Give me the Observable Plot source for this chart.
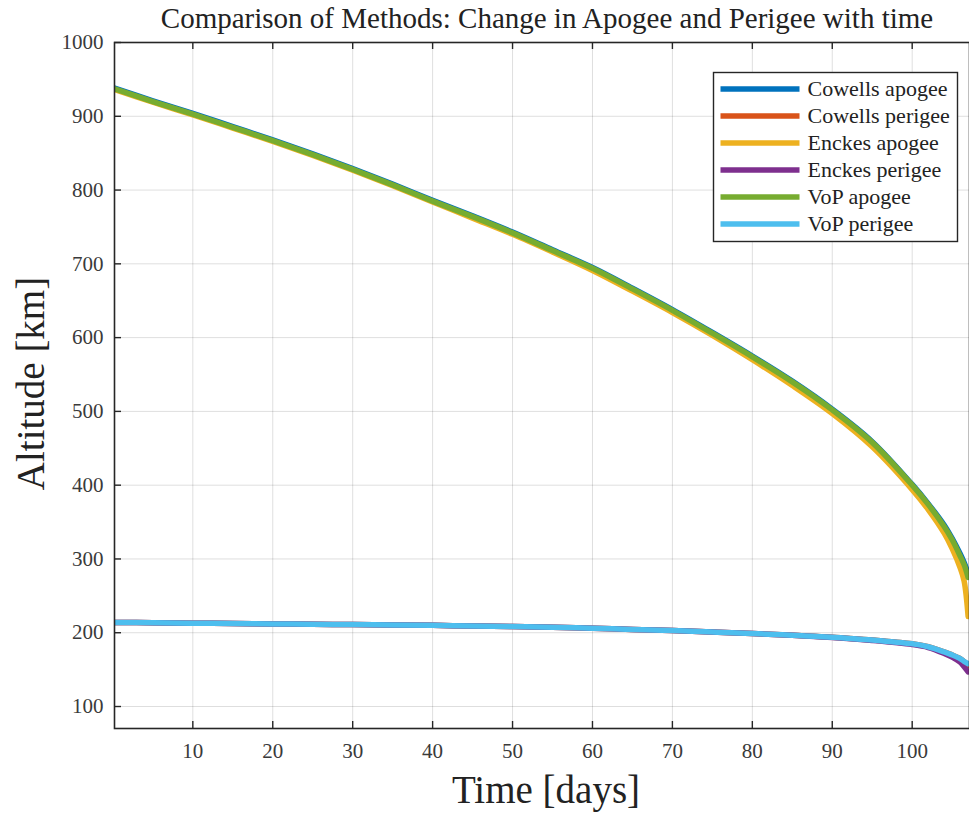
<!DOCTYPE html>
<html>
<head>
<meta charset="utf-8">
<script src="https://cdn.jsdelivr.net/npm/d3@7"></script>
<script src="https://cdn.jsdelivr.net/npm/@observablehq/plot@0.6"></script>
<style>
  html, body { margin: 0; padding: 0; background: #fff; }
  #chart svg { display: block; }
</style>
</head>
<body>
<div id="chart"></div>
<script>
// Time samples (days) shared by every series
const days = [0, 5, 10, 15, 20, 25, 30, 35, 40, 45, 50, 55, 60, 65, 70, 75, 80, 85, 90, 95, 100, 102, 104, 105, 106, 106.5, 107];

// Altitude (km) of apogee and perigee for each propagation method
const cowellsApogee  = [939, 921, 904, 886, 868, 849, 829, 808, 786, 765, 743, 719, 695, 667, 638, 607, 575, 541, 503, 459, 401, 375, 346, 328, 307, 295, 280];
const cowellsPerigee = [214, 213.5, 213, 212.5, 212, 211.5, 211, 210.5, 210, 209, 208.5, 207.5, 206, 204.5, 203, 201, 199, 196.5, 194, 190, 185, 181, 174, 170, 165, 161, 156];
const enckesApogee   = [937, 919, 902, 884, 866, 847, 827, 806, 784, 762, 740, 716, 691, 663, 634, 603, 570, 535, 497, 452, 394, 367, 335, 314, 288, 270, 222];
const enckesPerigee  = [214, 213.5, 213, 212.5, 212, 211.5, 211, 210.5, 210, 209, 208.5, 207.5, 206, 204.5, 203, 201, 199, 196.5, 193.5, 189.5, 184, 180, 172, 167, 160, 154, 147];
const vopApogee      = [938, 920, 903, 885, 867, 848, 828, 807, 785, 764, 742, 718, 694, 666, 637, 606, 574, 540, 502, 458, 400, 374, 344, 326, 304, 292, 275];
const vopPerigee     = [214, 213.5, 213, 212.5, 212, 211.5, 211, 210.5, 210, 209, 208.5, 207.5, 206, 204.5, 203, 201, 199, 196.5, 194, 190, 185, 181, 174, 170, 165, 161, 158];

const seriesNames  = ["Cowells apogee", "Cowells perigee", "Enckes apogee", "Enckes perigee", "VoP apogee", "VoP perigee"];
const seriesValues = [cowellsApogee, cowellsPerigee, enckesApogee, enckesPerigee, vopApogee, vopPerigee];
const seriesColors = ["#0072BD", "#D95319", "#EDB120", "#7E2F8E", "#77AC30", "#4DBEEE"];

const xTicks = [10, 20, 30, 40, 50, 60, 70, 80, 90, 100];
const yTicks = [100, 200, 300, 400, 500, 600, 700, 800, 900, 1000];

const titleText = "Comparison of Methods: Change in Apogee and Perigee with time";
const xLabel = "Time [days]";
const yLabel = "Altitude [km]";

// Long-format table: one row per (series, sample)
const rows = seriesNames.flatMap((name, s) =>
  days.map((d, i) => ({series: name, day: d, alt: seriesValues[s][i]}))
);

const W = 969, H = 815;
const mL = 114, mR = 0, mT = 42, mB = 87;
const plotW = W - mL - mR, plotH = H - mT - mB;
const ink = "#262626";
const serif = "'Liberation Serif', 'Times New Roman', serif";

const chart = Plot.plot({
  width: W,
  height: H,
  marginLeft: mL,
  marginRight: mR,
  marginTop: mT,
  marginBottom: mB,
  x: {domain: [0.2, 107.17]},
  y: {domain: [70.2, 1000]},
  color: {domain: seriesNames, range: seriesColors},
  style: {fontFamily: serif, fontSize: "21px", color: "#3a3a3a", background: "#fff"},
  marks: [
    Plot.gridX(xTicks, {stroke: "#000", strokeOpacity: 0.13, strokeWidth: 1}),
    Plot.gridY(yTicks, {stroke: "#000", strokeOpacity: 0.13, strokeWidth: 1}),
    Plot.line(rows, {x: "day", y: "alt", z: "series", stroke: "series", strokeWidth: 5.5, curve: "catmull-rom", clip: true}),
    // inward tick marks on the bottom, top and left edges
    Plot.ruleX(xTicks, {x: d => d, insetTop: plotH - 7, stroke: ink, strokeWidth: 1.4}),
    Plot.ruleX(xTicks, {x: d => d, insetBottom: plotH - 7, stroke: ink, strokeWidth: 1.4}),
    Plot.ruleY(yTicks, {y: d => d, insetRight: plotW - 7, stroke: ink, strokeWidth: 1.4}),
    Plot.frame({stroke: ink, strokeWidth: 1.6}),
    Plot.axisX(xTicks, {tickSize: 0, tickPadding: 15, label: null, fontSize: 21, tickFormat: d3.format("d")}),
    Plot.axisY(yTicks, {tickSize: 0, tickPadding: 11, label: null, fontSize: 21, tickFormat: d3.format("d")})
  ]
});

document.getElementById("chart").append(chart);

const svg = d3.select(chart);

// Title
svg.append("text")
  .attr("x", 547).attr("y", 28)
  .attr("text-anchor", "middle")
  .attr("font-family", serif).attr("font-size", 29)
  .attr("fill", "#222")
  .text(titleText);

// Axis labels
svg.append("text")
  .attr("x", 546).attr("y", 803)
  .attr("text-anchor", "middle")
  .attr("font-family", serif).attr("font-size", 39)
  .attr("fill", "#222")
  .text(xLabel);

svg.append("text")
  .attr("transform", "translate(44,383.5) rotate(-90)")
  .attr("text-anchor", "middle")
  .attr("font-family", serif).attr("font-size", 39)
  .attr("fill", "#222")
  .text(yLabel);

// Legend box in the upper right of the axes
const lg = svg.append("g").attr("transform", "translate(713.5,72.5)");
lg.append("rect")
  .attr("width", 244).attr("height", 169)
  .attr("fill", "#fff").attr("stroke", ink).attr("stroke-width", 1.4);
seriesNames.forEach((name, i) => {
  const y = 16.5 + i * 27;
  lg.append("line")
    .attr("x1", 7).attr("x2", 86).attr("y1", y).attr("y2", y)
    .attr("stroke", seriesColors[i]).attr("stroke-width", 5.5);
  lg.append("text")
    .attr("x", 94).attr("y", y + 7)
    .attr("text-anchor", "start")
    .attr("font-family", serif).attr("font-size", 22)
    .attr("fill", "#222")
    .text(name);
});
</script>
</body>
</html>
